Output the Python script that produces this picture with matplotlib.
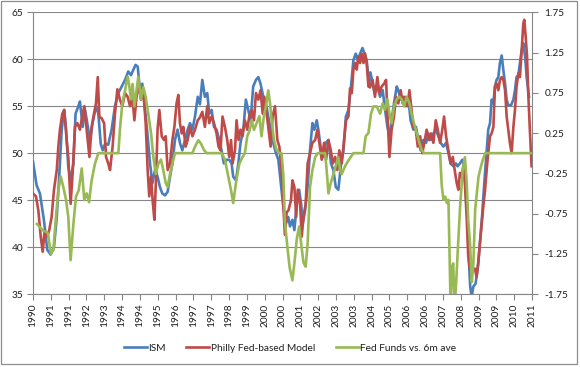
import numpy as np
import matplotlib
matplotlib.use("Agg")
import matplotlib.pyplot as plt
from matplotlib.patches import Rectangle

# ---------------- data ----------------
# x positions are months since the first category (Apr 1990); 253 monthly categories
n_categories = 253
label_interval = 9
year_labels = ["1990", "1991", "1991", "1992", "1993", "1994", "1994", "1995", "1996", "1997",
               "1997", "1998", "1999", "2000", "2000", "2001", "2002", "2003", "2003", "2004",
               "2005", "2006", "2006", "2007", "2008", "2009", "2009", "2010", "2011"]

ism_t = [0, 1.8, 3.5, 5.5, 7.2, 8.9, 10.6, 12, 13.3, 14.5,
         15.7, 16.7, 17.8, 19, 20.4, 21.5, 22.9, 23.7, 25.1, 26.3,
         27.4, 28.8, 30.1, 31.8, 33, 34.2, 35.2, 36.4, 38, 39.7,
         41.4, 43.1, 44.8, 46.5, 48.1, 49.5, 50.7, 51.8, 52.9, 54,
         55.2, 56.6, 57.9, 59.1, 60.3, 61.6, 62.9, 64.1, 65.3, 66.7,
         68, 69.2, 70.4, 71.7, 73, 74.2, 75.4, 76.8, 78.1, 79.3,
         80.5, 81.8, 83.2, 84.3, 85.5, 86.8, 88, 89, 90.2, 91.4,
         92.7, 94.1, 95.2, 96.4, 97.8, 99.1, 100.3, 101.1, 102.5, 103.7,
         104.8, 106.2, 107.5, 108.7, 109.9, 111.2, 112.6, 113.8, 114.9, 116.3,
         117.6, 118.8, 120, 121.3, 122.7, 123.9, 125, 126.4, 127.7, 128.9,
         129.8, 131, 132, 133.2, 134.4, 135.4, 136.2, 137.4, 138.7, 139.9,
         141.1, 142.1, 143.3, 144.1, 145.5, 146.7, 147.8, 149.2, 150.5, 151.7,
         152.9, 154.2, 155.6, 156.8, 158, 159.3, 160.6, 161.8, 163, 164,
         165.2, 166.4, 167.4, 168.5, 169.7, 170.4, 172.5, 173.9, 175.3, 176.6,
         177.8, 179, 180, 181.1, 182.3, 183.7, 184.5, 185.7, 187, 188.4,
         189.6, 190.7, 192.1, 193.4, 194.6, 195.8, 197.1, 198.5, 199.7, 200.8,
         202.2, 203.5, 204.7, 205.9, 207.2, 208.6, 209.8, 210.9, 212.3, 213.6,
         214.4, 215.6, 216.8, 217.8, 218.7, 219.5, 220.2, 220.8, 221.5, 222.4,
         223.5, 224.5, 225.7, 226.9, 227.9, 229.1, 229.9, 230.8, 231.6, 232.5,
         233.3, 234.1, 235, 235.8, 236.7, 237.5, 238.4, 239.2, 240, 241.4,
         242.6, 243.4, 244.2, 245.1, 245.9, 246.8, 247.6, 248.5, 249.3, 250.5]
ism = [49.1, 46.6, 45.7, 42.9, 39.7, 39.2, 40.0, 43.2, 47.8, 52.5,
       54.6, 52.5, 48.6, 47.1, 48.9, 54.2, 55.0, 55.5, 52.8, 54.6,
       53.2, 51.4, 53.2, 55.0, 54.2, 51.0, 50.3, 51.0, 50.9, 52.5,
       55.0, 56.4, 57.1, 57.8, 58.7, 58.3, 58.9, 59.4, 59.2, 56.7,
       57.4, 54.6, 51.8, 48.9, 46.8, 48.2, 47.5, 46.4, 45.7, 45.5,
       45.9, 47.5, 48.9, 51.4, 52.5, 51.1, 50.3, 51.4, 52.5, 53.2,
       52.5, 53.9, 56.0, 55.2, 57.8, 56.0, 56.4, 54.2, 54.6, 52.8,
       52.5, 51.4, 50.3, 48.9, 49.3, 49.3, 48.9, 47.5, 47.1, 48.9,
       51.1, 52.5, 55.7, 54.6, 53.5, 57.1, 57.8, 58.1, 57.4, 56.0,
       55.3, 53.9, 52.5, 51.1, 50.0, 49.3, 47.1, 44.3, 42.5, 43.2,
       42.2, 42.9, 41.8, 44.6, 46.1, 44.6, 42.5, 43.9, 46.4, 50.3,
       53.2, 52.5, 53.5, 52.5, 50.3, 49.6, 51.1, 51.4, 48.9, 48.2,
       46.4, 46.1, 48.9, 50.3, 53.9, 54.6, 57.1, 59.9, 60.6, 59.9,
       60.6, 61.2, 60.6, 59.9, 57.4, 58.6, 56.4, 57.1, 56.0, 56.7,
       54.6, 52.8, 51.8, 53.5, 55.3, 57.1, 56.7, 55.7, 56.0, 55.0,
       55.7, 53.5, 52.5, 52.8, 51.4, 50.3, 51.4, 51.1, 52.1, 51.4,
       52.1, 52.5, 51.8, 51.1, 50.7, 51.1, 50.0, 48.9, 48.6, 48.9,
       48.6, 48.9, 49.3, 48.6, 45.4, 42.5, 38.3, 35.8, 34.7, 35.8,
       36.1, 37.6, 40.4, 43.6, 46.8, 50.3, 52.5, 53.2, 55.7, 55.3,
       57.1, 57.8, 58.1, 59.6, 60.4, 58.9, 57.4, 55.7, 55.1, 55.1,
       55.7, 56.7, 58.1, 58.3, 59.6, 61.0, 61.7, 60.3, 58.1, 56.0]

philly_t = [0, 1.5, 2.7, 3.9, 4.9, 5.9, 7.2, 8.2, 9.4, 10.6,
            12, 12.8, 13.6, 14.8, 15.8, 17, 17.8, 19, 20, 21.2,
            22.4, 23.7, 25.1, 25.9, 27.1, 28.5, 29.6, 30.8, 31.8, 32.7,
            33.5, 34.7, 35.9, 36.9, 38, 38.9, 40.2, 41.4, 42.6, 43.9,
            45.1, 46.5, 47.8, 49, 50.2, 51.2, 52.3, 53.5, 54.5, 55.7,
            56.9, 57.9, 58.7, 59.6, 60.4, 61.3, 62.1, 62.9, 63.8, 65,
            66.1, 67, 68, 69.2, 70.4, 71.4, 72.5, 73.4, 74.2, 75.1,
            75.9, 77.1, 78.1, 79.3, 80.5, 81.8, 83.2, 84.3, 85.5, 86.8,
            88, 89, 90.2, 91.4, 92.7, 93.7, 94.7, 95.7, 96.9, 98.1,
            99.1, 100, 100.8, 102, 102.8, 103.8, 104.8, 105.8, 107, 108.2,
            109.2, 110.4, 111.6, 112.6, 113.8, 114.9, 116, 116.8, 118, 118.8,
            120, 121, 122.2, 123.4, 124.4, 125.5, 126.4, 127.2, 128.1, 129,
            130.3, 131, 132, 132.9, 133.7, 134.9, 135.7, 136.6, 137.7, 138.7,
            139.9, 141.1, 142.5, 143.6, 144.6, 145.8, 147, 148, 149.2, 150.4,
            151.4, 152.6, 153.7, 154.7, 155.9, 157.1, 158.1, 159.3, 160.1, 161,
            161.8, 162.7, 163.5, 164.3, 165.2, 166, 166.9, 167.7, 168.5, 169.4,
            170.2, 171.5, 172.7, 173.9, 174.9, 176.1, 177.3, 178.3, 179, 180,
            181.1, 182.3, 183.3, 184.5, 185.7, 186.7, 187.9, 189.1, 190.1, 191.2,
            192.1, 193.3, 194.3, 195.5, 196.6, 197.6, 198.8, 200, 201, 202.2,
            203.4, 204.4, 205.6, 206.7, 207.6, 208.6, 209.8, 210.9, 212, 213.1,
            214, 214.8, 215.6, 216.5, 217.3, 218.1, 219, 219.8, 220.7, 221.5,
            222.4, 223.2, 224, 224.9, 225.7, 226.6, 227.4, 228.3, 229.1, 229.9,
            230.8, 231.6, 232.5, 233.3, 234.1, 235, 235.8, 236.7, 237.5, 238.4,
            239.2, 240, 240.9, 241.7, 242.6, 243.4, 244.2, 245.1, 245.9, 246.8,
            247.6, 248.1, 248.8, 249.5, 250.1, 251, 251.8]
philly = [45.7, 45.4, 43.9, 41.1, 39.5, 41.8, 41.1, 41.8, 43.2, 46.1,
          48.2, 50.7, 52.5, 54.2, 54.6, 51.4, 49.6, 44.6, 47.8, 52.8,
          53.2, 52.5, 54.2, 55.0, 52.5, 49.6, 52.8, 54.2, 55.3, 58.1,
          53.9, 53.7, 53.2, 49.6, 48.9, 48.2, 50.7, 54.2, 56.8, 55.7,
          55.0, 56.4, 56.0, 55.0, 56.0, 53.5, 56.0, 57.4, 55.7, 56.7,
          53.2, 48.2, 45.4, 47.5, 45.0, 42.9, 47.1, 52.5, 54.6, 51.8,
          51.4, 51.8, 48.2, 48.9, 51.4, 52.8, 55.3, 56.2, 53.2, 52.1,
          52.8, 50.7, 51.4, 52.8, 51.8, 52.5, 53.5, 53.8, 54.4, 52.8,
          55.0, 53.2, 53.9, 53.2, 52.1, 50.7, 50.3, 53.9, 52.8, 51.4,
          49.6, 51.4, 48.9, 50.3, 53.5, 51.4, 52.5, 51.8, 53.5, 52.5,
          53.9, 54.6, 53.5, 56.4, 55.7, 56.7, 54.2, 56.0, 54.2, 52.8,
          50.7, 53.9, 55.0, 51.4, 50.7, 48.2, 44.6, 41.3, 43.7, 43.9,
          45.0, 47.1, 46.4, 43.2, 46.1, 44.6, 41.1, 43.2, 44.6, 48.9,
          50.0, 51.1, 51.4, 52.5, 51.1, 49.3, 51.1, 49.3, 51.4, 50.3,
          48.9, 49.6, 48.2, 50.3, 48.9, 51.4, 53.5, 53.9, 56.9, 56.4,
          58.9, 59.6, 58.9, 60.3, 59.6, 60.6, 59.6, 60.6, 59.6, 57.1,
          57.0, 57.8, 56.0, 58.1, 56.4, 57.1, 57.4, 57.8, 54.2, 49.6,
          52.5, 53.9, 56.0, 55.3, 56.7, 55.3, 56.0, 55.0, 56.7, 54.6,
          52.8, 52.5, 50.7, 51.8, 50.0, 51.1, 52.5, 51.4, 52.1, 51.1,
          53.5, 52.5, 51.1, 52.5, 53.9, 51.8, 50.3, 48.9, 49.6, 48.0,
          46.8, 46.1, 47.9, 47.5, 48.6, 46.8, 43.2, 39.0, 37.6, 37.9,
          37.6, 37.7, 36.8, 38.3, 40.4, 42.5, 44.3, 46.1, 48.2, 50.0,
          51.8, 52.1, 52.8, 57.1, 57.4, 56.7, 57.8, 58.1, 57.8, 56.7,
          53.9, 52.5, 51.0, 50.0, 52.8, 54.6, 57.1, 58.5, 58.1, 61.0,
          63.8, 64.2, 62.4, 60.3, 56.4, 52.1, 48.6]

# Fed Funds vs. 6m average (secondary axis)
ff_t = [2, 5, 7.5, 9, 10.3, 11.6, 12.8, 14, 15.3, 16.7,
        17.8, 19, 20.4, 21.7, 23.1, 24.6, 25.9, 27.1, 28.3, 29.6,
        31.3, 33, 43.1, 43.9, 45.1, 46.5, 47.8, 48.5, 49.5, 50.3,
        51.2, 52.3, 53.2, 54.5, 55.7, 56.9, 58.2, 59.6, 60.8, 62,
        63.3, 64.6, 65.8, 67, 68, 69.2, 70.4, 71.7, 80.5, 81.8,
        83.5, 84.8, 86.3, 87.7, 95.2, 96.9, 98.6, 100, 101.1, 102.5,
        104.2, 105.8, 107, 108.2, 109.5, 110.4, 111.6, 112.9, 114.3, 115.4,
        116.6, 117.6, 118.8, 119.7, 120.5, 121.7, 123, 124.4, 125.5, 126.4,
        127.2, 128.4, 129.6, 131, 132, 133.2, 134.4, 135.4, 136.6, 137.7,
        138.7, 139.9, 141.1, 142.5, 143.8, 147.5, 148.3, 149.2, 150.4, 151.7,
        152.9, 154.2, 155.1, 155.9, 157.6, 159.6, 161.8, 166.9, 168, 169.4,
        170.7, 171.9, 173.6, 175.3, 176.6, 177.8, 179, 180, 181.1, 182.3,
        183.7, 185, 186.2, 187.4, 188.7, 190.1, 191.2, 192.4, 193.8, 195.1,
        196.3, 197.5, 205.6, 206.4, 207.3, 208.2, 209, 209.8, 210.3, 210.9,
        211.5, 212.2, 212.9, 213.7, 214.7, 215.8, 217, 218.1, 219, 219.8,
        220.7, 221.6, 222.4, 223.3, 225, 226.6, 228.3, 252]
ff = [-0.88, -0.96, -0.99, -1.25, -1.20, -0.79, -0.46, -0.29, -0.42, -0.58,
      -0.79, -1.33, -0.88, -0.54, -0.46, -0.19, -0.58, -0.50, -0.61, -0.34,
      -0.13, 0.0, 0.0, 0.29, 0.62, 0.78, 0.95, 0.86, 0.67, 0.86,
      0.58, 0.78, 0.95, 0.67, 0.82, 0.70, 0.49, 0.25, -0.05, -0.26,
      -0.13, -0.08, -0.21, -0.37, -0.42, -0.26, -0.13, 0.0, 0.0, 0.08,
      0.16, 0.12, 0.04, 0.0, 0.0, -0.08, -0.29, -0.46, -0.62, -0.37,
      -0.13, -0.05, 0.0, 0.21, 0.29, 0.41, 0.29, 0.37, 0.46, 0.21,
      0.46, 0.58, 0.78, 0.62, 0.41, 0.16, 0.04, 0.0, 0.0, -0.26,
      -0.85, -1.15, -1.42, -1.58, -1.37, -1.07, -0.91, -1.12, -1.36, -1.41,
      -1.12, -0.42, -0.21, -0.05, 0.0, 0.0, -0.21, -0.50, -0.37, -0.26,
      -0.16, -0.05, -0.21, -0.26, -0.16, -0.08, 0.0, 0.0, 0.21, 0.25,
      0.49, 0.58, 0.58, 0.49, 0.62, 0.54, 0.67, 0.49, 0.37, 0.58,
      0.67, 0.70, 0.67, 0.58, 0.70, 0.62, 0.49, 0.37, 0.25, 0.13,
      0.04, 0.0, 0.0, -0.40, -0.58, -0.54, -0.62, -0.58, -1.17, -1.90,
      -1.43, -1.37, -1.90, -1.61, -1.12, -0.62, -0.21, -0.05, -0.35, -0.83,
      -1.12, -1.60, -1.37, -0.70, -0.29, -0.13, 0.0, 0.0]

left_ticks = [35, 40, 45, 50, 55, 60, 65]
right_ticks = [-1.75, -1.25, -0.75, -0.25, 0.25, 0.75, 1.25, 1.75]

series_names = ["ISM", "Philly Fed-based Model", "Fed Funds vs. 6m ave"]

# ---------------- style ----------------
plt.rcParams['font.family'] = ['Lato', 'DejaVu Sans']
FS = 7.3
TXT = '#1e1e1e'
AXC = '#868686'
C_ISM = '#4A7EBB'
C_PH = '#BE4B48'
C_FF = '#98B954'
LW = 1.9

W, H = 580, 367
fig = plt.figure(figsize=(W / 100, H / 100), dpi=100)
fig.patch.set_facecolor('white')
fig.patches.append(Rectangle((1 / W, 1 - 364 / H), 576 / W, 363 / H,
                             transform=fig.transFigure, fill=False,
                             edgecolor='#8c8c8c', lw=0.9))

ax = fig.add_axes([33 / W, 1 - 294 / H, 499 / W, (294 - 12.3) / H])
ax.set_facecolor('none')

l1, = ax.plot(ism_t, ism, color=C_ISM, lw=LW, solid_joinstyle='round', zorder=3)
l2, = ax.plot(philly_t, philly, color=C_PH, lw=LW, solid_joinstyle='round', zorder=4)

ax2 = ax.twinx()
l3, = ax2.plot(ff_t, ff, color=C_FF, lw=LW, solid_joinstyle='round', zorder=3)

ax.set_xlim(0, n_categories - 1)
ax.set_ylim(35, 65)
ax2.set_ylim(-1.75, 1.75)

ax.set_yticks(left_ticks)
ax.set_yticklabels([str(v) for v in left_ticks])
ax2.set_yticks(right_ticks)
ax2.set_yticklabels([f"{v:.2f}" for v in right_ticks])

ax.set_xticks(list(range(0, n_categories, label_interval)))
ax.set_xticklabels(year_labels, rotation=90, va='top', ha='center')

ax.grid(axis='y', color=AXC, lw=0.8, zorder=0)
ax.set_axisbelow(True)

for a in (ax, ax2):
    a.spines['top'].set_visible(False)
    for s in ('left', 'right', 'bottom'):
        a.spines[s].set_color(AXC)
        a.spines[s].set_linewidth(0.8)
ax.spines['right'].set_visible(False)
ax2.spines['left'].set_visible(False)
ax2.spines['bottom'].set_visible(False)

ax.tick_params(axis='y', direction='out', length=4, width=0.8, color=AXC,
               labelsize=FS, labelcolor=TXT, pad=3)
ax.tick_params(axis='x', direction='out', length=4, width=0.8, color=AXC,
               labelsize=FS, labelcolor=TXT, pad=3)
ax2.tick_params(axis='y', direction='out', length=4, width=0.8, color=AXC,
                labelsize=FS, labelcolor=TXT, pad=5)

fig.legend([l1, l2, l3], series_names, loc='center',
           bbox_to_anchor=(0.5, 1 - 348 / H), ncol=3, frameon=False,
           fontsize=FS, handlelength=2.3, handletextpad=0.15,
           columnspacing=2.0, labelcolor=TXT)

fig.savefig('out.png', dpi=100, facecolor='white')
